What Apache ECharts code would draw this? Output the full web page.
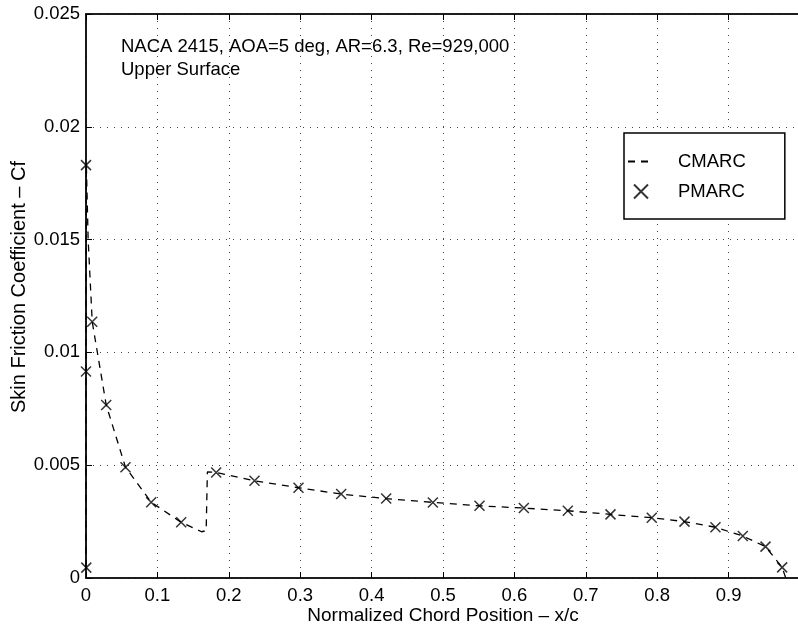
<!DOCTYPE html>
<html>
<head>
<meta charset="utf-8">
<script src="https://cdn.jsdelivr.net/npm/echarts@6/dist/echarts.min.js"></script>
<style>html,body{margin:0;padding:0;background:#fff}#c{width:798px;height:628px}</style>
</head>
<body>
<div id="c"></div>
<script>
// PMARC panel points [x/c, Cf]
const pmarcX = [0, 0, 0.0087, 0.0283, 0.0553, 0.0913, 0.1333, 0.1823, 0.236, 0.2976, 0.3574, 0.4204, 0.4858, 0.5511, 0.6132, 0.6748, 0.7346, 0.7924, 0.8382, 0.8816, 0.9199, 0.9517, 0.975, 0.0004];
const pmarcY = [0.0183, 0.00915, 0.01136, 0.00767, 0.00491, 0.00336, 0.00247, 0.00468, 0.00431, 0.0040, 0.00372, 0.00352, 0.00335, 0.0032, 0.0031, 0.00298, 0.00282, 0.00267, 0.0025, 0.00225, 0.00186, 0.00139, 0.00047, 0.00046];
// CMARC curve [x/c, Cf]
const cmarcX = [0, 0, 0.0005, 0.003, 0.0087, 0.0283, 0.0553, 0.0913, 0.1333, 0.162, 0.1683, 0.1700, 0.1823, 0.236, 0.2976, 0.3574, 0.4204, 0.4858, 0.5511, 0.6132, 0.6748, 0.7346, 0.7924, 0.8382, 0.8816, 0.9199, 0.9517, 0.975, 0.98];
const cmarcY = [0.0005, 0.0092, 0.0183, 0.0150, 0.01136, 0.00767, 0.00491, 0.00336, 0.00247, 0.00205, 0.0021, 0.0047, 0.00468, 0.00431, 0.0040, 0.00372, 0.00352, 0.00335, 0.0032, 0.0031, 0.00298, 0.00282, 0.00267, 0.0025, 0.00225, 0.00186, 0.00139, 0.00047, 0.0];
const xTickLabels = ['0', '0.1', '0.2', '0.3', '0.4', '0.5', '0.6', '0.7', '0.8', '0.9', ''];
const yTickLabels = ['0', '0.005', '0.01', '0.015', '0.02', '0.025'];
const seriesNames = ['CMARC', 'PMARC'];
const annotation = ['NACA 2415, AOA=5 deg, AR=6.3, Re=929,000', 'Upper Surface'];
const xTitle = 'Normalized Chord Position – x/c';
const yTitle = 'Skin Friction Coefficient – Cf';

const FONT = 'Liberation Sans, Arial, Helvetica, sans-serif';
const FS = 18.5;
const chart = echarts.init(document.getElementById('c'), null, {renderer: 'canvas'});
const zip = (xs, ys) => xs.map((x, i) => [x, ys[i]]);
const crossPath = 'path://M0,0L10,10M10,0L0,10';

chart.setOption({
  animation: false,
  backgroundColor: '#fff',
  grid: {left: 86, top: 14, width: 714, height: 564, show: true, borderColor: '#000', borderWidth: 1.2,
         backgroundColor: '#fff', outerBoundsMode: 'none', containLabel: false},
  textStyle: {fontFamily: FONT, color: '#000'},
  xAxis: [{
    type: 'value', min: 0, max: 1, interval: 0.1,
    name: xTitle, nameLocation: 'middle', nameGap: 28, nameMoveOverlap: false,
    nameTextStyle: {fontSize: 19, color: '#000', fontFamily: FONT},
    axisLine: {show: true, lineStyle: {color: '#000', width: 1.5}},
    axisTick: {show: true, inside: true, length: 6, lineStyle: {color: '#000'}},
    axisLabel: {fontSize: FS, color: '#000', margin: 8, fontFamily: FONT, showMaxLabel: true,
      formatter: (v) => xTickLabels[Math.round(v * 10)]},
    splitLine: {show: true, lineStyle: {type: [1, 6], color: '#444', width: 1}}
  }, {
    type: 'value', min: 0, max: 1, interval: 0.1, position: 'top',
    axisLine: {show: true, lineStyle: {color: '#000', width: 1.5}},
    axisTick: {show: true, inside: true, length: 6, lineStyle: {color: '#000'}},
    axisLabel: {show: false}, splitLine: {show: false}
  }],
  yAxis: {
    type: 'value', min: 0, max: 0.025, interval: 0.005,
    name: yTitle, nameLocation: 'middle', nameGap: 57, nameMoveOverlap: false,
    nameTextStyle: {fontSize: 20, color: '#000', fontFamily: FONT, padding: [0, 0, 0, 18]},
    axisLine: {show: true, lineStyle: {color: '#000', width: 1.5}},
    axisTick: {show: true, inside: true, length: 6, lineStyle: {color: '#000'}},
    axisLabel: {fontSize: FS, color: '#000', margin: 6, fontFamily: FONT,
      formatter: (v) => yTickLabels[Math.round(v / 0.005)]},
    splitLine: {show: true, lineStyle: {type: [1, 6], color: '#444', width: 1}}
  },
  legend: {
    orient: 'vertical', left: 624, top: 133,
    backgroundColor: '#fff', borderColor: '#000', borderWidth: 1.5, borderRadius: 0,
    padding: [19, 39, 18, 3], itemGap: 11, itemWidth: 26, itemHeight: 14,
    textStyle: {fontSize: FS, color: '#000', fontFamily: FONT, padding: [0, 0, 0, 19]},
    data: [{name: seriesNames[0], itemStyle: {opacity: 0}}, {name: seriesNames[1]}]
  },
  graphic: [{
    type: 'text', left: 121, top: 37,
    style: {text: annotation[0], fontSize: FS, fill: '#000', fontFamily: FONT}
  }, {
    type: 'text', left: 121, top: 60,
    style: {text: annotation[1], fontSize: FS, fill: '#000', fontFamily: FONT}
  }],
  series: [{
    name: seriesNames[0], type: 'line', data: zip(cmarcX, cmarcY),
    showSymbol: false, symbol: 'none', smooth: false,
    lineStyle: {type: [7, 6], color: '#000', width: 1.3},
    itemStyle: {color: '#000'}, z: 2
  }, {
    name: seriesNames[1], type: 'scatter', data: zip(pmarcX, pmarcY),
    symbol: crossPath, symbolSize: 10,
    itemStyle: {color: 'none', borderColor: '#000', borderWidth: 1.5}, z: 3
  }]
});
</script>
</body>
</html>
